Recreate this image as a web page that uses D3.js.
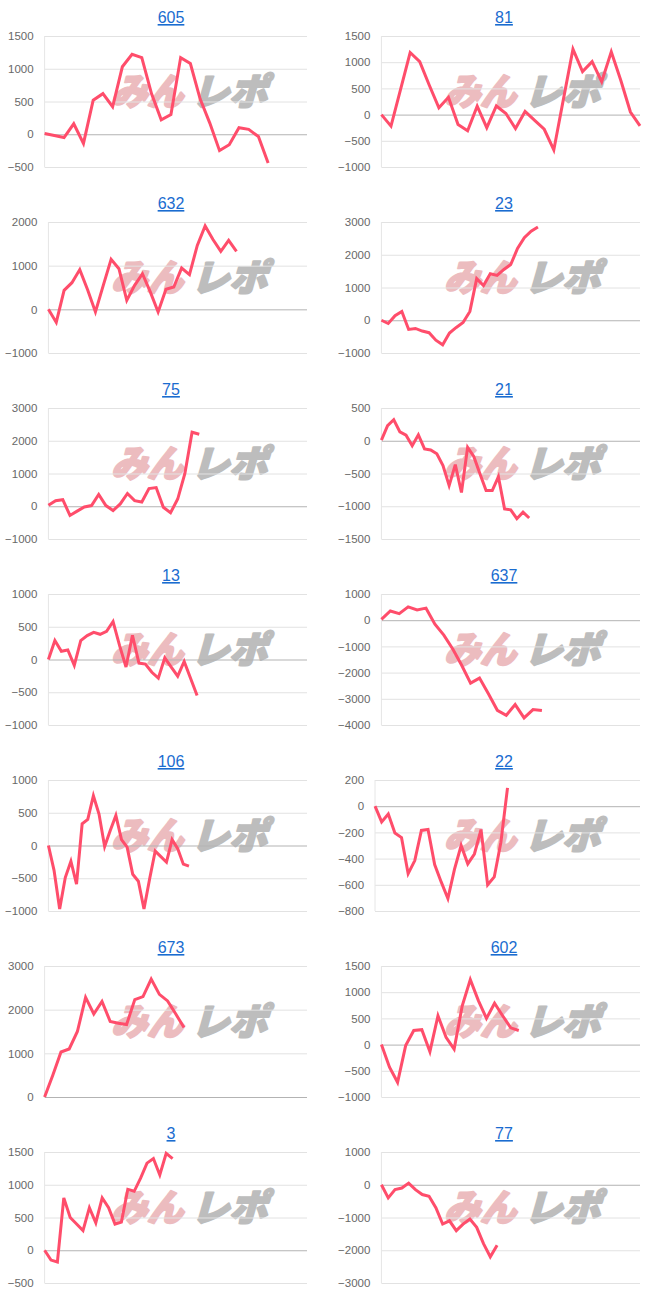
<!DOCTYPE html>
<html>
<head>
<meta charset="utf-8">
<script src="https://cdn.jsdelivr.net/npm/d3@7"></script>
<style>
  html, body { margin: 0; padding: 0; background: #fff; }
  svg { display: block; }
</style>
</head>
<body>
<svg id="chart" width="666" height="1302"></svg>
<script>
// ---- data ----
const titles = ["605", "81", "632", "23", "75", "21", "13", "637", "106", "22", "673", "602", "3", "77"];

// number of x positions on each chart's axis
const xSlots = [28, 28, 34, 39, 37, 43, 41, 30, 47, 41, 33, 33, 42, 39];

const t605 = [-500, 0, 500, 1000, 1500];
const t81  = [-1000, -500, 0, 500, 1000, 1500];
const t632 = [-1000, 0, 1000, 2000];
const t23  = [-1000, 0, 1000, 2000, 3000];
const t75  = [-1000, 0, 1000, 2000, 3000];
const t21  = [-1500, -1000, -500, 0, 500];
const t13  = [-1000, -500, 0, 500, 1000];
const t637 = [-4000, -3000, -2000, -1000, 0, 1000];
const t106 = [-1000, -500, 0, 500, 1000];
const t22  = [-800, -600, -400, -200, 0, 200];
const t673 = [0, 1000, 2000, 3000];
const t602 = [-1000, -500, 0, 500, 1000, 1500];
const t3   = [-500, 0, 500, 1000, 1500];
const t77  = [-3000, -2000, -1000, 0, 1000];

const v605 = [10, -20, -50, 160, -140, 520, 620, 420, 1030, 1220, 1170, 620, 220, 300, 1170, 1080, 540, 170, -250, -160, 100, 75, -35, -440];
const v81  = [0, -220, 480, 1185, 1010, 560, 130, 330, -190, -310, 160, -250, 165, 20, -265, 60, -110, -280, -675, 290, 1250, 820, 1010, 630, 1200, 650, 50, -215];
const v632 = [0, -300, 435, 610, 910, 450, -60, 550, 1145, 930, 205, 550, 815, 400, -60, 460, 510, 945, 795, 1465, 1910, 1600, 1330, 1580, 1330];
const v23  = [0, -100, 140, 270, -280, -250, -330, -380, -610, -750, -390, -220, -70, 270, 1270, 1060, 1420, 1370, 1550, 1700, 2190, 2520, 2720, 2850];
const v75  = [30, 170, 200, -280, -150, -20, 20, 360, 20, -130, 70, 390, 170, 130, 540, 570, -30, -200, 220, 1000, 2260, 2200];
const v21  = [10, 230, 320, 135, 85, -75, 90, -125, -140, -200, -380, -685, -365, -790, -100, -240, -505, -760, -760, -550, -1040, -1055, -1190, -1090, -1180];
const v13  = [0, 290, 125, 145, -90, 290, 365, 415, 385, 430, 580, 215, -115, 370, -55, -70, -195, -285, 25, -115, -255, -30, -290, -550];
const v637 = [30, 350, 250, 510, 395, 460, -150, -570, -1100, -1720, -2400, -2210, -2810, -3440, -3630, -3220, -3730, -3410, -3450];
const v106 = [0, -380, -970, -490, -240, -590, 330, 400, 760, 480, -15, 230, 460, 90, -25, -440, -545, -970, -510, -85, -170, -255, 90, -50, -285, -315];
const v22  = [0, -120, -60, -205, -240, -515, -415, -185, -178, -445, -580, -705, -480, -300, -440, -365, -178, -600, -540, -275, 140];
const v673 = [0, 500, 1030, 1100, 1500, 2280, 1900, 2190, 1730, 1690, 1660, 2230, 2300, 2700, 2350, 2200, 1900, 1590];
const v602 = [0, -430, -720, -20, 270, 285, -135, 550, 140, -85, 740, 1240, 840, 500, 790, 550, 320, 270];
const v3   = [0, -150, -180, 800, 500, 400, 300, 650, 420, 800, 650, 400, 430, 930, 900, 1100, 1330, 1400, 1150, 1480, 1400];
const v77  = [0, -400, -150, -100, 50, -150, -300, -350, -700, -1200, -1100, -1400, -1200, -1050, -1300, -1800, -2200, -1850];

const allTicks = [t605, t81, t632, t23, t75, t21, t13, t637, t106, t22, t673, t602, t3, t77];
const allValues = [v605, v81, v632, v23, v75, v21, v13, v637, v106, v22, v673, v602, v3, v77];

// ---- layout / style ----
const colX = [0, 333];
const rowH = 186;
const plotTop = 36, plotBottom = 167, plotRight = 307;
const lineColor = "#ff4d6b";
const labelFont = "Liberation Sans, Arial, sans-serif";
const labelSize = 11.5;

const svg = d3.select("#chart");
svg.append("rect").attr("width", 666).attr("height", 1302).attr("fill", "#fff");

// text measurement helper
const measurer = svg.append("text").attr("font-family", labelFont).attr("font-size", labelSize).attr("opacity", 0);
function textW(s) { measurer.text(s); return measurer.node().getComputedTextLength(); }

titles.forEach((title, i) => {
  const px = colX[i % 2];
  const py = Math.floor(i / 2) * rowH;
  const g = svg.append("g").attr("transform", `translate(${px},${py})`);

  const ticks = allTicks[i];
  const values = allValues[i];
  const maxW = d3.max(ticks, t => textW(String(t)));
  const left = 7 + maxW + 12;

  const x = d3.scaleLinear().domain([0, xSlots[i] - 1]).range([left, plotRight]);
  const y = d3.scaleLinear().domain(d3.extent(ticks)).range([plotBottom, plotTop]);

  // watermark logo
  const wm = g.append("g");
  wm.append("text")
    .attr("transform", "translate(111,105) skewX(-16)")
    .attr("font-family", "Noto Sans CJK JP, sans-serif")
    .attr("font-weight", 900)
    .attr("font-size", 37)
    .attr("textLength", 72)
    .attr("lengthAdjust", "spacingAndGlyphs")
    .attr("fill", "#ecbcbf")
    .attr("stroke", "#ecbcbf")
    .attr("stroke-width", 2.2)
    .attr("stroke-linejoin", "round")
    .text("みん");
  wm.append("text")
    .attr("transform", "translate(191,105) skewX(-16)")
    .attr("font-family", "Noto Sans CJK JP, sans-serif")
    .attr("font-weight", 900)
    .attr("font-size", 37)
    .attr("textLength", 76)
    .attr("lengthAdjust", "spacingAndGlyphs")
    .attr("fill", "#bdbdbd")
    .attr("stroke", "#bdbdbd")
    .attr("stroke-width", 2.2)
    .attr("stroke-linejoin", "round")
    .text("レポ");

  // y axis gridlines and labels
  const yAxis = d3.axisLeft(y).tickValues(ticks).tickSize(-(plotRight - left)).tickFormat(d3.format("d"));
  const ya = g.append("g").attr("transform", `translate(${left},0)`).call(yAxis);
  ya.select(".domain").remove();
  ya.selectAll(".tick line")
    .attr("stroke", d => d === 0 ? "#b3b3b3" : "#e2e2e2")
    .attr("stroke-width", 1);
  ya.selectAll(".tick text")
    .attr("x", -11)
    .attr("fill", "#686868")
    .attr("font-family", labelFont)
    .attr("font-size", labelSize);
  ya.selectAll(".tick").filter(d => d === 0).raise();

  // vertical axis line
  g.append("line")
    .attr("x1", left).attr("x2", left)
    .attr("y1", plotTop).attr("y2", plotBottom)
    .attr("stroke", "#e6e6e6");

  // series line
  const line = d3.line().x((d, j) => x(j)).y(d => y(d));
  g.append("path")
    .datum(values)
    .attr("d", line)
    .attr("fill", "none")
    .attr("stroke", lineColor)
    .attr("stroke-width", 3)
    .attr("stroke-linejoin", "miter");

  // title (link style)
  g.append("text")
    .attr("x", 171).attr("y", 23)
    .attr("text-anchor", "middle")
    .attr("font-family", labelFont)
    .attr("font-size", 16)
    .attr("fill", "#1a6cd0")
    .attr("text-decoration", "underline")
    .text(title);
});
measurer.remove();
</script>
</body>
</html>
